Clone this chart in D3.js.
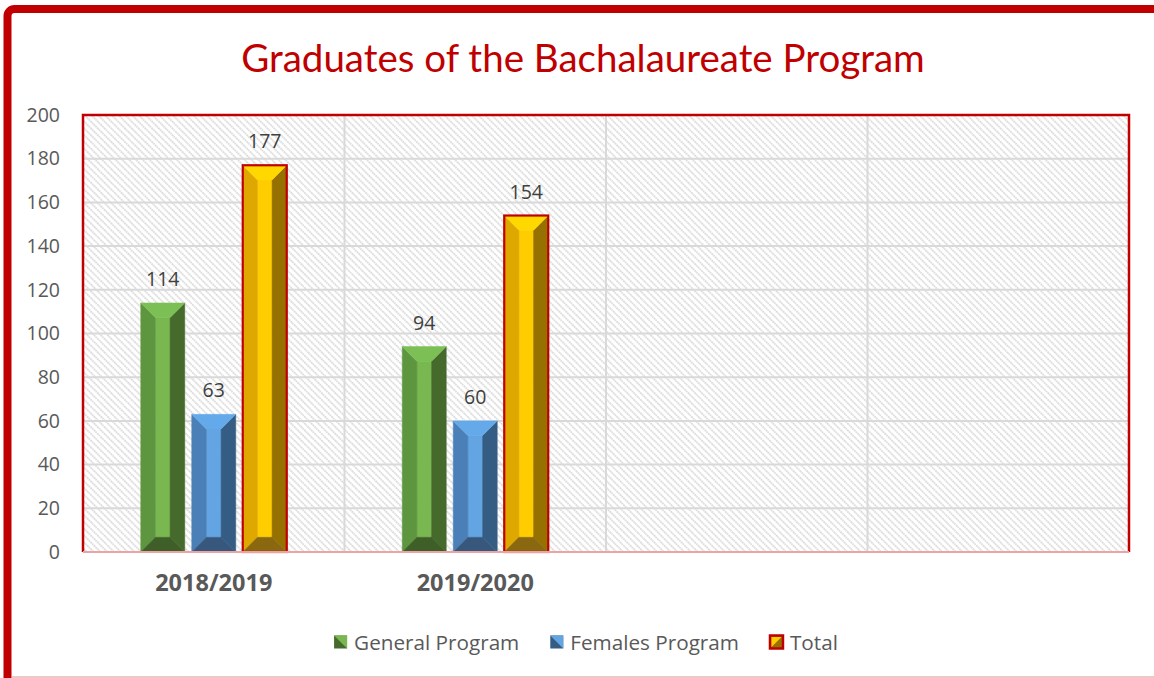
<!DOCTYPE html>
<html>
<head>
<meta charset="utf-8">
<script src="https://cdnjs.cloudflare.com/ajax/libs/d3/7.8.5/d3.min.js"></script>
<style>
  body { margin: 0; background: #fff; }
  text { font-family: "Open Sans", "Noto Sans", sans-serif; }
</style>
</head>
<body>
<div class="chart"></div>
<script>
// chart data
var categories = ["2018/2019", "2019/2020", "", " "];
var seriesNames = ["General Program", "Females Program", "Total"];
var generalValues = [114, 94, null, null];
var femalesValues = [63, 60, null, null];
var totalValues = [177, 154, null, null];
var yTicks = [0, 20, 40, 60, 80, 100, 120, 140, 160, 180, 200];

var svgWidth = 1154;
var svgHeight = 678;

var margin = { top: 115, right: 25, bottom: 126, left: 83 };
var width = svgWidth - margin.left - margin.right;
var height = svgHeight - margin.top - margin.bottom;

var svg = d3.select(".chart")
  .append("svg")
  .attr("width", svgWidth)
  .attr("height", svgHeight);

// colours for the bevelled bars: left, centre, right, top, bottom
var palette = {
  "General Program": { left: "#5e963f", mid: "#79b751", right: "#456a2c", top: "#7cc055", bottom: "#3f5f29", stroke: null },
  "Females Program": { left: "#4a80b7", mid: "#63a4e2", right: "#355d84", top: "#64aaea", bottom: "#37587c", stroke: null },
  "Total": { left: "#dfa800", mid: "#ffcc00", right: "#977100", top: "#ffd800", bottom: "#8a6810", stroke: "#c00000" }
};

var defs = svg.append("defs");
var hatch = defs.append("pattern")
  .attr("id", "hatch")
  .attr("patternUnits", "userSpaceOnUse")
  .attr("width", 4.8)
  .attr("height", 4.8)
  .attr("patternTransform", "rotate(-45)");
hatch.append("rect").attr("width", 4.8).attr("height", 4.8).attr("fill", "#ffffff");
hatch.append("line")
  .attr("x1", 1).attr("y1", 0).attr("x2", 1).attr("y2", 4.8)
  .attr("stroke", "#d4d4d4")
  .attr("stroke-width", 1.6)
  .attr("stroke-dasharray", "1.6,0.8");

// outer frame (runs off the right and bottom edges)
svg.append("rect")
  .attr("x", 7.5)
  .attr("y", 9)
  .attr("width", 1300)
  .attr("height", 800)
  .attr("rx", 7)
  .attr("fill", "none")
  .attr("stroke", "#c00000")
  .attr("stroke-width", 8);
svg.append("line")
  .attr("x1", 12).attr("x2", svgWidth)
  .attr("y1", 677).attr("y2", 677)
  .attr("stroke", "#eab4b4")
  .attr("stroke-width", 1.5);

// title
svg.append("text")
  .attr("x", 583)
  .attr("y", 72)
  .attr("text-anchor", "middle")
  .attr("fill", "#c00000")
  .style("font-size", "38.5px")
  .style("font-family", "Lato, 'Open Sans', sans-serif")
  .text("Graduates of the Bachalaureate Program");

var chartGroup = svg.append("g")
  .attr("transform", `translate(${margin.left}, ${margin.top})`);

// scales
var x0 = d3.scaleBand()
  .domain(categories)
  .range([0, width])
  .padding(0);

var groupWidth = 146;
var x1 = d3.scaleBand()
  .domain(seriesNames)
  .range([(x0.bandwidth() - groupWidth) / 2, (x0.bandwidth() + groupWidth) / 2])
  .paddingInner(0.137)
  .paddingOuter(0);

var y = d3.scaleLinear()
  .domain([0, 200])
  .range([height, 0]);

// plot background
chartGroup.append("rect")
  .attr("width", width)
  .attr("height", height)
  .attr("fill", "url(#hatch)");

// horizontal gridlines
chartGroup.append("g")
  .selectAll("line")
  .data(yTicks.slice(1, -1))
  .enter()
  .append("line")
  .attr("x1", 0).attr("x2", width)
  .attr("y1", d => y(d)).attr("y2", d => y(d))
  .attr("stroke", "#d9d9d9")
  .attr("stroke-width", 2);

// vertical gridlines between categories
chartGroup.append("g")
  .selectAll("line")
  .data(categories.slice(1))
  .enter()
  .append("line")
  .attr("x1", d => x0(d)).attr("x2", d => x0(d))
  .attr("y1", 0).attr("y2", height)
  .attr("stroke", "#d9d9d9")
  .attr("stroke-width", 2);

// y axis labels
var leftAxis = d3.axisLeft(y)
  .tickValues(yTicks)
  .tickSize(0)
  .tickPadding(23);
var yAxis = chartGroup.append("g").call(leftAxis);
yAxis.select(".domain").remove();
yAxis.selectAll("text")
  .attr("fill", "#595959")
  .style("font-size", "19.5px")
  .style("font-family", "'Open Sans', sans-serif");

// x axis labels
var bottomAxis = d3.axisBottom(x0).tickSize(0).tickPadding(22);
var xAxis = chartGroup.append("g")
  .attr("transform", `translate(0, ${height})`)
  .call(bottomAxis);
xAxis.select(".domain").remove();
xAxis.selectAll("text")
  .attr("fill", "#595959")
  .style("font-size", "23.5px")
  .style("font-weight", "bold")
  .style("font-family", "'Open Sans', sans-serif");

// build bar data from the arrays
var barData = [];
categories.forEach(function(cat, i) {
  [generalValues, femalesValues, totalValues].forEach(function(arr, j) {
    if (arr[i] !== null) {
      barData.push({ category: cat, series: seriesNames[j], value: arr[i] });
    }
  });
});

function bevel(d) {
  var bx = x0(d.category) + x1(d.series);
  var bw = x1.bandwidth();
  var by = y(d.value);
  var bh = height - by;
  var b = Math.min(15, bw / 3, bh / 2);
  return {
    left: [[bx, by], [bx + b, by + b], [bx + b, by + bh - b], [bx, by + bh]],
    right: [[bx + bw, by], [bx + bw - b, by + b], [bx + bw - b, by + bh - b], [bx + bw, by + bh]],
    top: [[bx, by], [bx + bw, by], [bx + bw - b, by + b], [bx + b, by + b]],
    bottom: [[bx, by + bh], [bx + bw, by + bh], [bx + bw - b, by + bh - b], [bx + b, by + bh - b]],
    mid: [[bx + b, by + b], [bx + bw - b, by + b], [bx + bw - b, by + bh - b], [bx + b, by + bh - b]],
    outline: [bx, by, bw, bh]
  };
}

var barsGroup = chartGroup.selectAll(".bar")
  .data(barData)
  .enter()
  .append("g")
  .attr("class", "bar");

["mid", "left", "right", "top", "bottom"].forEach(function(face) {
  barsGroup.append("polygon")
    .attr("points", d => bevel(d)[face].map(p => p.join(",")).join(" "))
    .attr("fill", d => palette[d.series][face])
    .attr("stroke", d => palette[d.series][face])
    .attr("stroke-width", 0.5);
});

barsGroup.filter(d => palette[d.series].stroke)
  .append("rect")
  .attr("x", d => bevel(d).outline[0])
  .attr("y", d => bevel(d).outline[1])
  .attr("width", d => bevel(d).outline[2])
  .attr("height", d => bevel(d).outline[3])
  .attr("fill", "none")
  .attr("stroke", d => palette[d.series].stroke)
  .attr("stroke-width", 2.2);

// data labels
barsGroup.append("text")
  .attr("x", d => x0(d.category) + x1(d.series) + x1.bandwidth() / 2)
  .attr("y", d => y(d.value) - 17)
  .attr("text-anchor", "middle")
  .attr("fill", "#404040")
  .style("font-size", "19.5px")
  .text(d => d.value);

// plot border
chartGroup.append("path")
  .attr("d", `M0,${height} V0 H${width} V${height}`)
  .attr("fill", "none")
  .attr("stroke", "#c00000")
  .attr("stroke-width", 2.5);
chartGroup.append("line")
  .attr("x1", 0).attr("x2", width)
  .attr("y1", height).attr("y2", height)
  .attr("stroke", "#eaa4a4")
  .attr("stroke-width", 2);

// legend
var legend = svg.append("g").attr("transform", "translate(0, 642)");
var sw = 13;
var legendItems = legend.selectAll("g")
  .data(seriesNames)
  .enter()
  .append("g");

legendItems.append("text")
  .attr("x", sw + 7)
  .attr("y", 7.5)
  .attr("fill", "#595959")
  .style("font-size", "20.7px")
  .text(d => d);

var offsets = [];
var cursor = 0;
legendItems.each(function(d, i) {
  var w = sw + 7 + d3.select(this).select("text").node().getComputedTextLength();
  offsets.push(cursor);
  cursor += w + 31;
});
var legendWidth = cursor - 31;
var legendStart = 586 - legendWidth / 2;
legendItems.attr("transform", (d, i) => `translate(${legendStart + offsets[i]}, 0)`);

legendItems.append("rect")
  .attr("x", 0).attr("y", -sw / 2)
  .attr("width", sw).attr("height", sw)
  .attr("fill", d => palette[d].right)
  .attr("stroke", d => palette[d].stroke || "none")
  .attr("stroke-width", 2.5);
legendItems.append("polygon")
  .attr("points", d => palette[d].stroke
    ? `1.5,${-sw / 2 + 1.5} ${sw - 1.5},${-sw / 2 + 1.5} 1.5,${sw / 2 - 1.5}`
    : `0,${-sw / 2} ${sw},${-sw / 2} ${sw},${sw / 2}`)
  .attr("fill", d => palette[d].mid);
</script>
</body>
</html>
